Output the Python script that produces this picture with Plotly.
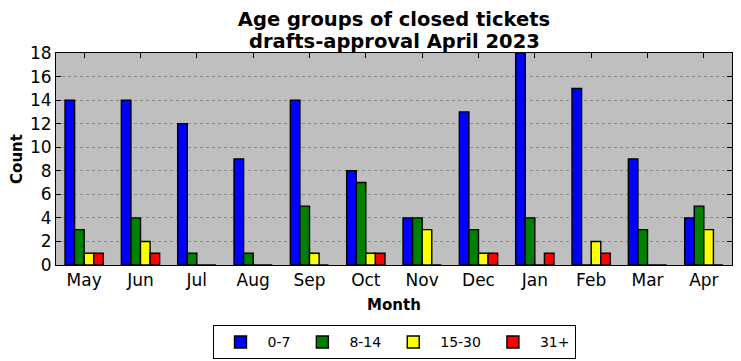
import plotly.graph_objects as go

months = ["May", "Jun", "Jul", "Aug", "Sep", "Oct", "Nov", "Dec", "Jan", "Feb", "Mar", "Apr"]
age_0_7 = [14, 14, 12, 9, 14, 8, 4, 13, 18, 15, 9, 4]
age_8_14 = [3, 4, 1, 1, 5, 7, 4, 3, 4, 0, 3, 5]
age_15_30 = [1, 2, 0, 0, 1, 1, 3, 1, 0, 2, 0, 3]
age_31_plus = [1, 1, 0, 0, 0, 1, 0, 1, 1, 1, 0, 0]

title_line1 = "Age groups of closed tickets"
title_line2 = "drafts-approval April 2023"

series = [
    ("0-7", age_0_7, "#0000ff"),
    ("8-14", age_8_14, "#008000"),
    ("15-30", age_15_30, "#ffff00"),
    ("31+", age_31_plus, "#ff0000"),
]

fig = go.Figure()
for name, vals, color in series:
    fig.add_trace(go.Bar(
        x=months, y=vals, name=name,
        marker=dict(color=color, line=dict(color="black", width=1.4)),
    ))

font = "DejaVu Sans"
fig.update_layout(
    width=741, height=361,
    margin=dict(l=56, r=9, t=53, b=96, autoexpand=False),
    paper_bgcolor="white",
    plot_bgcolor="#bfbfbf",
    barmode="group",
    bargap=0.32,
    bargroupgap=0,
    font=dict(family=font, size=17, color="black"),
    title=dict(
        text="<b>" + title_line1 + "</b>",
        x=(56 + 338) / 741, xanchor="center",
        y=1 - 19 / 361, yanchor="middle", yref="container",
        font=dict(family=font, size=19.5, color="black"),
        automargin=False,
    ),
    annotations=[dict(
        text="<b>" + title_line2 + "</b>",
        xref="paper", yref="paper", x=0.5, xanchor="center",
        y=1 + (53 - 41) / 212, yanchor="middle",
        showarrow=False,
        font=dict(family=font, size=19.5, color="black"),
    )],
    showlegend=True,
    legend=dict(
        orientation="h",
        x=0.5, xanchor="center",
        y=-0.285, yanchor="top",
        bordercolor="black", borderwidth=1,
        bgcolor="white",
        font=dict(family=font, size=14),
        itemwidth=44,
    ),
    xaxis=dict(
        title=dict(text="<b>Month</b>", font=dict(family=font, size=15), standoff=10),
        showline=True, linecolor="black", linewidth=1, mirror="allticks",
        ticks="inside", ticklen=5, tickcolor="black",
        showgrid=False, automargin=False,
        range=[-0.5, 11.5],
    ),
    yaxis=dict(
        title=dict(text="<b>Count</b>", font=dict(family=font, size=15), standoff=3),
        range=[0, 18], dtick=2,
        showline=True, linecolor="black", linewidth=1, mirror="allticks",
        ticks="inside", ticklen=5, tickcolor="black",
        showgrid=True, gridcolor="#8c8c8c", griddash="dot", gridwidth=1,
        zeroline=False, automargin=False,
    ),
)

fig.write_html("out.html", config={"displayModeBar": False},
               post_script="document.body.style.margin='0';")
